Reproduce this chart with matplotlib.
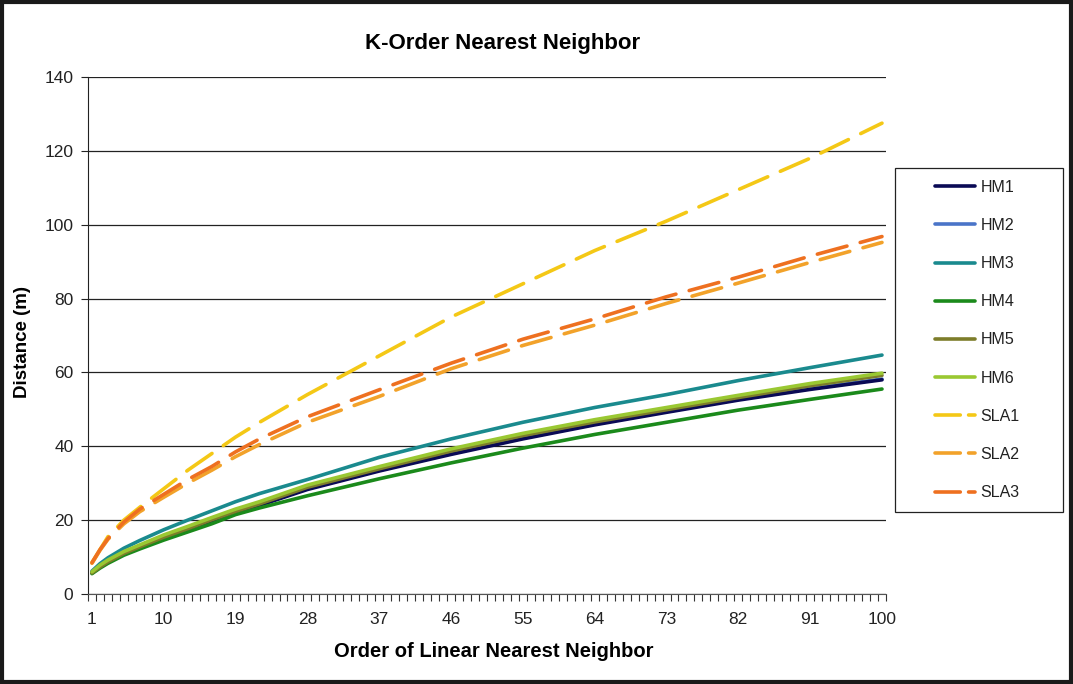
import numpy as np, matplotlib
matplotlib.use("Agg")
import matplotlib.pyplot as plt
from matplotlib.patches import Rectangle

plt.rcParams['font.family'] = ['Liberation Sans', 'DejaVu Sans']

order = [1, 2, 3, 5, 7, 10, 13, 16, 19, 22, 28, 37, 46, 55, 64, 73, 82, 91, 100]

hm1 = [5.8, 7.4, 8.8, 11.0, 12.8, 15.3, 17.6, 19.8, 22.0, 24.0, 28.3, 33.3, 37.8, 42.0, 45.8, 49.2, 52.5, 55.4, 58.0]
hm2 = [5.9, 7.5, 8.9, 11.1, 13.0, 15.5, 17.8, 20.0, 22.2, 24.2, 28.5, 33.5, 38.0, 42.2, 46.0, 49.4, 52.7, 55.6, 58.2]
hm3 = [6.2, 8.2, 9.8, 12.4, 14.5, 17.4, 20.0, 22.5, 25.0, 27.2, 31.0, 37.0, 42.0, 46.5, 50.5, 54.0, 57.8, 61.3, 64.7]
hm4 = [5.5, 7.0, 8.3, 10.5, 12.2, 14.6, 16.8, 19.0, 21.5, 23.3, 26.6, 31.2, 35.5, 39.5, 43.2, 46.5, 49.8, 52.7, 55.5]
hm5 = [5.7, 7.3, 8.7, 11.0, 12.8, 15.4, 17.7, 20.1, 22.4, 24.4, 28.9, 33.9, 38.7, 42.9, 46.6, 49.9, 53.2, 56.4, 59.2]
hm6 = [6.0, 7.8, 9.2, 11.5, 13.3, 16.0, 18.3, 20.7, 23.0, 25.0, 29.5, 34.5, 39.3, 43.5, 47.2, 50.5, 53.8, 57.0, 59.8]
sla1 = [8.5, 12.0, 15.5, 20.0, 23.5, 28.5, 33.5, 38.0, 42.5, 46.5, 54.0, 64.5, 75.0, 84.0, 93.0, 101.0, 109.5, 118.0, 127.5]
sla2 = [8.3, 11.8, 14.8, 19.0, 22.3, 26.2, 30.0, 33.5, 37.2, 40.5, 46.5, 53.5, 61.0, 67.3, 72.8, 78.7, 84.2, 89.8, 95.2]
sla3 = [8.5, 12.0, 15.0, 19.5, 23.0, 27.0, 31.0, 34.5, 38.5, 42.0, 48.0, 55.3, 62.5, 69.0, 74.5, 80.5, 85.8, 91.5, 96.8]

names = ["HM1", "HM2", "HM3", "HM4", "HM5", "HM6", "SLA1", "SLA2", "SLA3"]
series = [hm1, hm2, hm3, hm4, hm5, hm6, sla1, sla2, sla3]
colors = ["#0a0a55", "#4a74c8", "#1a8a8e", "#1b8a1b", "#7d7d2a", "#9ac832",
          "#f4c816", "#f2a22a", "#ee7020"]

xlabels = list(range(1, 101, 9))
yticks = list(range(0, 141, 20))

fig = plt.figure(figsize=(10.73, 6.84), dpi=100, facecolor="white")
ax = fig.add_axes([0.082, 0.1316, 0.7437, 0.7558])

# dashed ones underneath, solid ones on top
z = {"HM1": 5, "HM2": 4, "HM3": 3, "HM4": 6, "HM5": 7, "HM6": 8,
     "SLA1": 2, "SLA2": 2, "SLA3": 3}
for nm, vals, c in zip(names, series, colors):
    if nm.startswith("SLA"):
        ax.plot(order, vals, color=c, lw=2.6, dashes=(8.5, 3.8),
                dash_capstyle="round", label=nm, zorder=z[nm])
    else:
        ax.plot(order, vals, color=c, lw=2.6, solid_capstyle="round",
                label=nm, zorder=z[nm])

ax.set_xlim(0.5, 100.5)
ax.set_ylim(0, 140)
ax.set_xticks(xlabels)
ax.set_xticklabels([str(v) for v in xlabels])
ax.set_xticks(np.arange(0.5, 101, 1), minor=True)
ax.tick_params(axis="x", which="major", length=0, pad=13, labelsize=12.5, colors="#222")
ax.tick_params(axis="x", which="minor", length=5, width=0.8, color="#333")
ax.set_yticks(yticks)
ax.tick_params(axis="y", length=5, width=0.8, pad=5.5, labelsize=12.5, colors="#222")
ax.yaxis.grid(True, color="#222", lw=0.9)
ax.set_axisbelow(True)
for s in ["top", "right"]:
    ax.spines[s].set_visible(False)
ax.spines["left"].set_color("#222")
ax.spines["bottom"].set_color("#555")

ax.set_title("K-Order Nearest Neighbor", fontsize=16, fontweight="bold", pad=20, x=0.519)
ax.set_xlabel("Order of Linear Nearest Neighbor", fontsize=14.5, fontweight="bold", labelpad=11)
ax.xaxis.label.set_x(0.508)
ax.set_ylabel("Distance (m)", fontsize=13.5, fontweight="bold", labelpad=10)
ax.yaxis.label.set_y(0.488)

# legend box drawn separately so its padding can match the reference
fig.patches.append(Rectangle((895 / 1073, 1 - 512 / 684), 168 / 1073, 344 / 684,
                             transform=fig.transFigure, fill=False,
                             edgecolor="#222", lw=0.9))
leg = fig.legend(loc="center left", bbox_to_anchor=(935 / 1073, 1 - 340 / 684),
                 fontsize=11.5, handlelength=2.5, handletextpad=0.35,
                 labelspacing=1.45, borderpad=0, borderaxespad=0,
                 frameon=False)
for t in leg.get_texts():
    t.set_color("#222")
# legend swatches: long dash, gap, short piece
for ln, nm in zip(leg.get_lines(), names):
    if nm.startswith("SLA"):
        ln.set_dashes((7, 2.3))

fig.patches.append(Rectangle((0.002, 0.003), 0.996, 0.994, transform=fig.transFigure,
                             fill=False, edgecolor="#1a1a1a", lw=3))

fig.savefig("out.png", dpi=100)
